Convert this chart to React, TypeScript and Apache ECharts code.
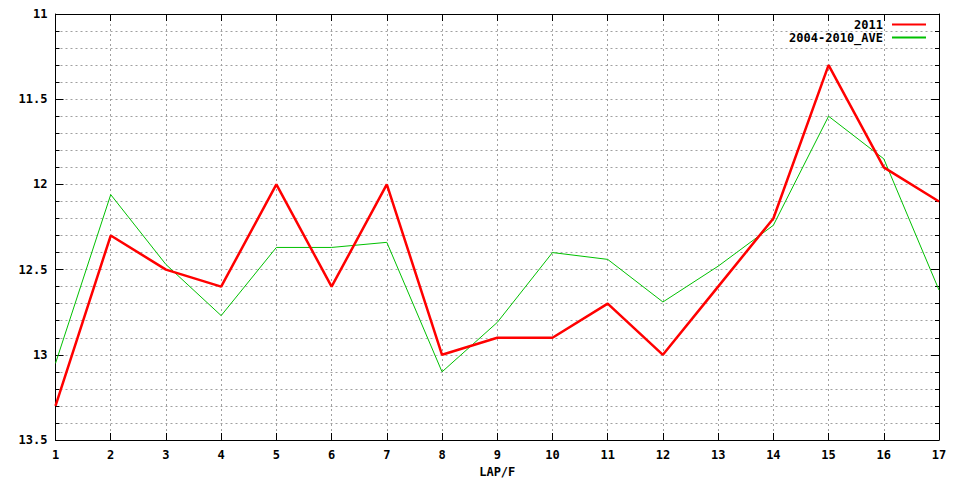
import React, { useEffect, useRef } from "react";
import * as echarts from "echarts";

const laps = [1, 2, 3, 4, 5, 6, 7, 8, 9, 10, 11, 12, 13, 14, 15, 16, 17];
const series2011 = [13.3, 12.3, 12.5, 12.6, 12.0, 12.6, 12.0, 13.0, 12.9, 12.9, 12.7, 13.0, 12.6, 12.2, 11.3, 11.9, 12.1];
const seriesAve = [13.05, 12.06, 12.47, 12.77, 12.37, 12.37, 12.34, 13.1, 12.81, 12.4, 12.44, 12.69, 12.48, 12.24, 11.6, 11.85, 12.62];
const seriesNames = ["2011", "2004-2010_AVE"];
const xAxisName = "LAP/F";

const FONT = "DejaVu Sans Mono";
const GRID_COLOR = "#a0a0a0";

export default function App() {
  const ref = useRef<HTMLDivElement>(null);
  useEffect(() => {
    document.body.style.margin = "0";
    const chart = echarts.init(ref.current!, null, { renderer: "svg" });
    const label = { fontFamily: FONT, fontWeight: "bold", fontSize: 12, color: "#000" };
    const gridLine = { show: true, lineStyle: { color: GRID_COLOR, type: [2, 3] as any, width: 1 } };
    const axisLine = { show: true, lineStyle: { color: "#000", width: 1 } };
    const xBase = {
      type: "value" as const,
      min: 1,
      max: 17,
      interval: 1,
      axisLine,
      axisTick: { show: true, inside: true, length: 7, lineStyle: { color: "#000" } },
    };
    const yBase = {
      type: "value" as const,
      min: 11,
      max: 13.5,
      interval: 0.5,
      inverse: true,
      axisLine,
      axisTick: { show: true, inside: true, length: 8, lineStyle: { color: "#000" } },
      minorTick: { show: true, splitNumber: 5, length: 4, lineStyle: { color: "#000" } },
    };
    chart.setOption({
      animation: false,
      backgroundColor: "#fff",
      grid: { left: 55.5, right: 21, top: 14, bottom: 40, containLabel: false, outerBoundsMode: "none" },
      legend: {
        orient: "vertical",
        right: 33,
        top: 18.5,
        padding: 0,
        align: "right",
        itemWidth: 34,
        itemHeight: 10,
        itemGap: 1,
        itemStyle: { color: "rgba(0,0,0,0)", borderColor: "rgba(0,0,0,0)", borderWidth: 0, opacity: 0 },
        textStyle: { ...label, lineHeight: 12, padding: [0, 4, 0, 0] },
        data: seriesNames,
      },
      xAxis: [
        {
          ...xBase,
          position: "bottom",
          axisLabel: { ...label, margin: 9 },
          splitLine: gridLine,
          name: xAxisName,
          nameLocation: "middle",
          nameGap: 26,
          nameTextStyle: label,
        },
        { ...xBase, position: "top", axisLabel: { show: false }, splitLine: { show: false } },
      ],
      yAxis: [
        {
          ...yBase,
          position: "left",
          axisLabel: { ...label, margin: 8 },
          splitLine: gridLine,
          minorSplitLine: gridLine,
        },
        {
          ...yBase,
          position: "right",
          axisLabel: { show: false },
          splitLine: { show: false },
          minorSplitLine: { show: false },
        },
      ],
      series: [
        {
          name: seriesNames[0],
          type: "line",
          symbol: "none",
          data: laps.map((l, i) => [l, series2011[i]]),
          lineStyle: { color: "#ff0000", width: 2.5 },
          itemStyle: { color: "#ff0000" },
          z: 3,
        },
        {
          name: seriesNames[1],
          type: "line",
          symbol: "none",
          data: laps.map((l, i) => [l, seriesAve[i]]),
          lineStyle: { color: "#00c000", width: 1 },
          itemStyle: { color: "#00c000" },
          z: 2,
        },
      ],
    });
    return () => chart.dispose();
  }, []);
  return <div ref={ref} style={{ width: 960, height: 480 }} />;
}
